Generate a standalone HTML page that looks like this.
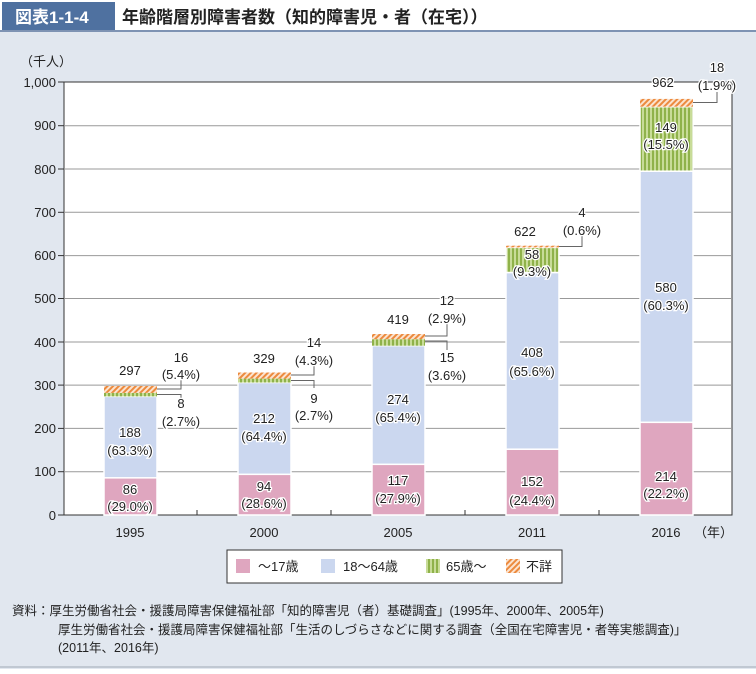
<!DOCTYPE html>
<html><head><meta charset="utf-8"><style>
body{margin:0;width:756px;height:669px;background:#fff;overflow:hidden;font-family:"Liberation Sans","Noto Sans CJK JP",sans-serif;}
svg text{font-family:"Liberation Sans","Noto Sans CJK JP",sans-serif;}
.h text{paint-order:stroke;stroke:#fff;stroke-width:2.5px;}
</style></head><body>
<svg width="756" height="669" xmlns="http://www.w3.org/2000/svg">
<defs>
<pattern id="g" width="4" height="4" patternUnits="userSpaceOnUse"><rect width="4" height="4" fill="#c8dc98"/><rect width="2" height="4" fill="#8fb24a"/></pattern>
<pattern id="o" width="4" height="4" patternUnits="userSpaceOnUse" patternTransform="rotate(45)"><rect width="4" height="4" fill="#fbe3cf"/><rect width="2" height="4" fill="#ec8a3e"/></pattern>
</defs>
<rect x="0" y="32" width="756" height="637" fill="#e1e7ef"/>
<rect x="2" y="2" width="113" height="28" fill="#4f71a0"/>
<text x="15" y="23" font-size="17" font-weight="bold" fill="#fff">図表1-1-4</text>
<text x="122" y="23" font-size="17" font-weight="bold" fill="#222">年齢階層別障害者数（知的障害児・者（在宅））</text>
<line x1="0" y1="31" x2="756" y2="31" stroke="#7e93b3" stroke-width="2"/>
<line x1="0" y1="667" x2="756" y2="667" stroke="#a0a8b4" stroke-width="1"/>
<rect x="64" y="82" width="668" height="433" fill="#fff" stroke="#333" stroke-width="1"/>
<g stroke="#999" stroke-width="1">
<line x1="64" y1="125.7" x2="732" y2="125.7"/><line x1="64" y1="169" x2="732" y2="169"/><line x1="64" y1="212.3" x2="732" y2="212.3"/><line x1="64" y1="255.6" x2="732" y2="255.6"/><line x1="64" y1="298.5" x2="732" y2="298.5"/><line x1="64" y1="342" x2="732" y2="342"/><line x1="64" y1="385.1" x2="732" y2="385.1"/><line x1="64" y1="428.4" x2="732" y2="428.4"/><line x1="64" y1="471.7" x2="732" y2="471.7"/>
</g>
<g stroke="#333"><line x1="58" y1="82" x2="64" y2="82"/><line x1="58" y1="125.7" x2="64" y2="125.7"/><line x1="58" y1="169" x2="64" y2="169"/><line x1="58" y1="212.3" x2="64" y2="212.3"/><line x1="58" y1="255.6" x2="64" y2="255.6"/><line x1="58" y1="298.5" x2="64" y2="298.5"/><line x1="58" y1="342" x2="64" y2="342"/><line x1="58" y1="385.1" x2="64" y2="385.1"/><line x1="58" y1="428.4" x2="64" y2="428.4"/><line x1="58" y1="471.7" x2="64" y2="471.7"/><line x1="58" y1="515" x2="732" y2="515"/>
<line x1="197" y1="515" x2="197" y2="510"/><line x1="331" y1="515" x2="331" y2="510"/><line x1="465" y1="515" x2="465" y2="510"/><line x1="599" y1="515" x2="599" y2="510"/></g>
<g font-size="13" fill="#222" text-anchor="end">
<text x="56" y="87">1,000</text><text x="56" y="130">900</text><text x="56" y="174">800</text><text x="56" y="217">700</text><text x="56" y="260">600</text><text x="56" y="303">500</text><text x="56" y="347">400</text><text x="56" y="390">300</text><text x="56" y="433">200</text><text x="56" y="476">100</text><text x="56" y="520">0</text>
</g>
<text x="20" y="66" font-size="13" fill="#222">（千人）</text>
<g font-size="13" fill="#222" text-anchor="middle">
<text x="130" y="537">1995</text><text x="264" y="537">2000</text><text x="398" y="537">2005</text><text x="532" y="537">2011</text><text x="666" y="537">2016</text>
</g>
<text x="694" y="537" font-size="13" fill="#222">（年）</text>
<g stroke="#fff" stroke-width="1.5">
<rect x="104" y="477.8" width="53" height="37.2" fill="#dfa6bf"/><rect x="104" y="396.4" width="53" height="81.4" fill="#cbd7ef"/><rect x="104" y="392.9" width="53" height="3.5" fill="url(#g)" stroke="none"/><rect x="104" y="386" width="53" height="6.9" fill="url(#o)" stroke="none"/>
<rect x="238" y="474.3" width="53" height="40.7" fill="#dfa6bf"/><rect x="238" y="382.5" width="53" height="91.8" fill="#cbd7ef"/><rect x="238" y="378.6" width="53" height="3.9" fill="url(#g)" stroke="none"/><rect x="238" y="372.5" width="53" height="6.1" fill="url(#o)" stroke="none"/>
<rect x="372" y="464.3" width="53" height="50.7" fill="#dfa6bf"/><rect x="372" y="345.7" width="53" height="118.6" fill="#cbd7ef"/><rect x="372" y="339.2" width="53" height="6.5" fill="url(#g)" stroke="none"/><rect x="372" y="334" width="53" height="5.2" fill="url(#o)" stroke="none"/>
<rect x="506" y="449.2" width="53" height="65.8" fill="#dfa6bf"/><rect x="506" y="272.5" width="53" height="176.7" fill="#cbd7ef"/><rect x="506" y="247.4" width="53" height="25.1" fill="url(#g)"/><rect x="506" y="245.7" width="53" height="1.7" fill="url(#o)" stroke="none"/>
<rect x="640" y="422.3" width="53" height="92.7" fill="#dfa6bf"/><rect x="640" y="171.2" width="53" height="251.1" fill="#cbd7ef"/><rect x="640" y="106.7" width="53" height="64.5" fill="url(#g)"/><rect x="640" y="98.9" width="53" height="7.8" fill="url(#o)" stroke="none"/>
</g>
<g stroke="#666" fill="none" stroke-width="1">
<polyline points="157,389 181,389 181,378"/><polyline points="157,394.5 181,394.5 181,402"/>
<polyline points="291,375 314,375 314,364"/><polyline points="291,380.5 314,380.5 314,388"/>
<polyline points="425,336 447,336 447,322"/><polyline points="425,341 447,341 447,350"/>
<polyline points="559,246.5 582,246.5 582,235"/>
<polyline points="693,102.5 717,102.5 717,92"/>
</g>
<g font-size="13" fill="#222" text-anchor="middle" class="h">
<text x="130" y="375">297</text><text x="181" y="362">16</text><text x="181" y="379">(5.4%)</text><text x="181" y="408">8</text><text x="181" y="426">(2.7%)</text>
<text x="130" y="437">188</text><text x="130" y="455">(63.3%)</text><text x="130" y="494">86</text><text x="130" y="511">(29.0%)</text>
<text x="264" y="363">329</text><text x="314" y="347">14</text><text x="314" y="365">(4.3%)</text><text x="314" y="403">9</text><text x="314" y="420">(2.7%)</text>
<text x="264" y="423">212</text><text x="264" y="441">(64.4%)</text><text x="264" y="491">94</text><text x="264" y="508">(28.6%)</text>
<text x="398" y="324">419</text><text x="447" y="305">12</text><text x="447" y="323">(2.9%)</text><text x="447" y="362">15</text><text x="447" y="380">(3.6%)</text>
<text x="398" y="404">274</text><text x="398" y="422">(65.4%)</text><text x="398" y="485">117</text><text x="398" y="503">(27.9%)</text>
<text x="525" y="236">622</text><text x="582" y="217">4</text><text x="582" y="235">(0.6%)</text>
<text x="532" y="259">58</text><text x="532" y="276">(9.3%)</text><text x="532" y="357">408</text><text x="532" y="376">(65.6%)</text><text x="532" y="486">152</text><text x="532" y="505">(24.4%)</text>
<text x="663" y="87">962</text><text x="717" y="72">18</text><text x="717" y="90">(1.9%)</text>
<text x="666" y="132">149</text><text x="666" y="149">(15.5%)</text><text x="666" y="292">580</text><text x="666" y="310">(60.3%)</text><text x="666" y="481">214</text><text x="666" y="498">(22.2%)</text>
</g>
<rect x="227" y="550" width="335" height="33" fill="#fff" stroke="#333"/>
<rect x="236" y="559" width="14" height="14" fill="#dfa6bf"/><text x="258" y="571" font-size="13" fill="#222">～17歳</text>
<rect x="321" y="559" width="14" height="14" fill="#cbd7ef"/><text x="343" y="571" font-size="13" fill="#222">18～64歳</text>
<rect x="426" y="559" width="14" height="14" fill="url(#g)"/><text x="446" y="571" font-size="13" fill="#222">65歳～</text>
<rect x="506" y="559" width="14" height="14" fill="url(#o)"/><text x="526" y="571" font-size="13" fill="#222">不詳</text>
<g font-size="12.5" fill="#222">
<text x="12" y="615">資料：厚生労働省社会・援護局障害保健福祉部「知的障害児（者）基礎調査」(1995年、2000年、2005年)</text>
<text x="58" y="634">厚生労働省社会・援護局障害保健福祉部「生活のしづらさなどに関する調査（全国在宅障害児・者等実態調査)」</text>
<text x="58" y="652">(2011年、2016年)</text>
</g>
</svg>
</body></html>
